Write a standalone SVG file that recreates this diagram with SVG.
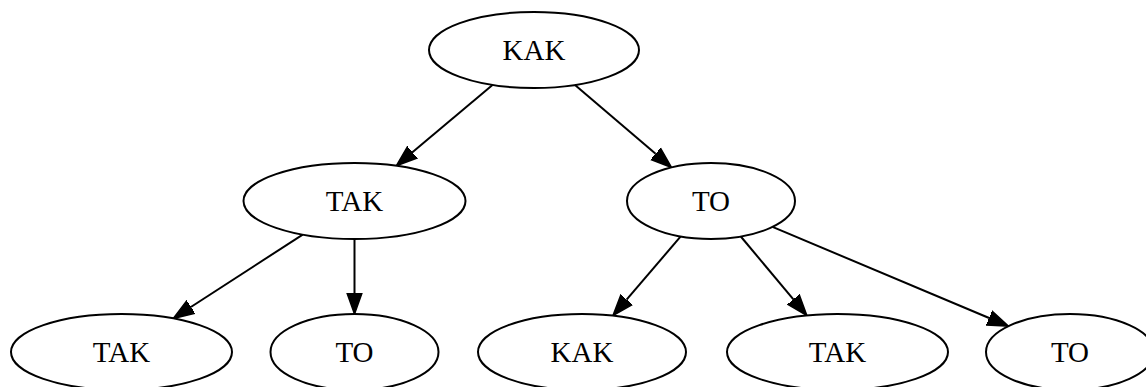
<svg xmlns="http://www.w3.org/2000/svg" width="1146" height="387" viewBox="0 0 1146 387">
<style>
.n ellipse{fill:#fff;stroke:#000;stroke-width:2}
.n text{font-family:"Liberation Serif","Times New Roman",serif;font-size:29px;text-anchor:middle;fill:#000}
.e line{stroke:#000;stroke-width:2}
</style>
<defs>
<marker id="ah" markerUnits="userSpaceOnUse" markerWidth="24" markerHeight="18" refX="0" refY="8" orient="auto" viewBox="0 -1 24 18">
<path d="M0,0.5 L21,8 L0,15.5 z" fill="#000" stroke="#000" stroke-width="1.5"/>
</marker>
</defs>
<rect width="1146" height="387" fill="#fff"/>
<g id="connectors" class="e">
<line x1="492.5" y1="84.9" x2="412.4" y2="152.3" marker-end="url(#ah)"/>
<line x1="575" y1="85" x2="655.6" y2="153.8" marker-end="url(#ah)"/>
<line x1="302.7" y1="234.6" x2="190.9" y2="307" marker-end="url(#ah)"/>
<line x1="354.5" y1="239" x2="354.5" y2="293" marker-end="url(#ah)"/>
<line x1="680.7" y1="236.4" x2="626.6" y2="299.7" marker-end="url(#ah)"/>
<line x1="740.8" y1="236.5" x2="793.4" y2="299.4" marker-end="url(#ah)"/>
<line x1="772.5" y1="226.9" x2="989.1" y2="318" marker-end="url(#ah)"/>
</g>
<g id="root" class="n"><ellipse cx="534" cy="50" rx="105" ry="38"/><text x="534" y="60">KAK</text></g>
<g id="tak1" class="n"><ellipse cx="354.5" cy="201" rx="111" ry="38"/><text x="354.5" y="211">TAK</text></g>
<g id="to1" class="n"><ellipse cx="711" cy="201" rx="84" ry="38"/><text x="711" y="211">TO</text></g>
<g id="tak2" class="n"><ellipse cx="121.5" cy="352" rx="110.5" ry="38"/><text x="121.5" y="362">TAK</text></g>
<g id="to2" class="n"><ellipse cx="354.5" cy="352" rx="84" ry="38"/><text x="354.5" y="362">TO</text></g>
<g id="kak2" class="n"><ellipse cx="582" cy="352" rx="104" ry="38"/><text x="582" y="362">KAK</text></g>
<g id="tak3" class="n"><ellipse cx="837.5" cy="352" rx="110.5" ry="38"/><text x="837.5" y="362">TAK</text></g>
<g id="to3" class="n"><ellipse cx="1070" cy="352" rx="84" ry="38"/><text x="1070" y="362">TO</text></g>
</svg>
